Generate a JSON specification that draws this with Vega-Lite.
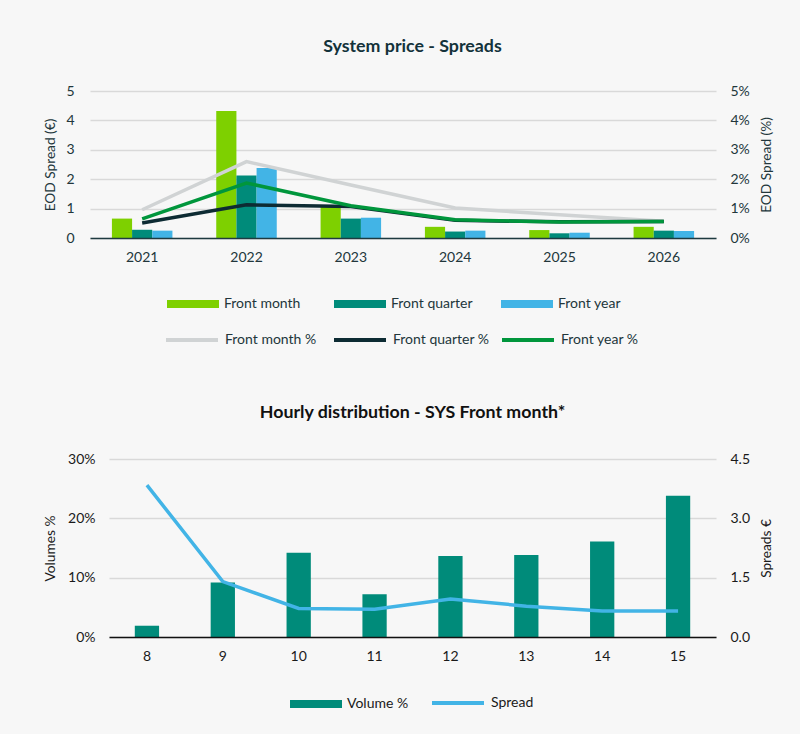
{
  "$schema": "https://vega.github.io/schema/vega-lite/v6.json",
  "background": "#f7f7f7",
  "padding": {"left": 43, "top": 38, "right": 26, "bottom": 23},
  "align": "none",
  "columns": 1,
  "datasets": {
    "spreadBars": [
      {"year": "2021", "series": "Front month", "value": 0.66},
      {"year": "2021", "series": "Front quarter", "value": 0.28},
      {"year": "2021", "series": "Front year", "value": 0.25},
      {"year": "2022", "series": "Front month", "value": 4.32},
      {"year": "2022", "series": "Front quarter", "value": 2.13},
      {"year": "2022", "series": "Front year", "value": 2.38},
      {"year": "2023", "series": "Front month", "value": 1.12},
      {"year": "2023", "series": "Front quarter", "value": 0.66},
      {"year": "2023", "series": "Front year", "value": 0.69},
      {"year": "2024", "series": "Front month", "value": 0.38},
      {"year": "2024", "series": "Front quarter", "value": 0.22},
      {"year": "2024", "series": "Front year", "value": 0.25},
      {"year": "2025", "series": "Front month", "value": 0.27},
      {"year": "2025", "series": "Front quarter", "value": 0.16},
      {"year": "2025", "series": "Front year", "value": 0.18},
      {"year": "2026", "series": "Front month", "value": 0.38},
      {"year": "2026", "series": "Front quarter", "value": 0.25},
      {"year": "2026", "series": "Front year", "value": 0.24}
    ],
    "spreadLines": [
      {"year": "2021", "series": "Front month %", "pct": 0.96},
      {"year": "2022", "series": "Front month %", "pct": 2.6},
      {"year": "2023", "series": "Front month %", "pct": 1.8},
      {"year": "2024", "series": "Front month %", "pct": 1.02},
      {"year": "2025", "series": "Front month %", "pct": 0.79},
      {"year": "2026", "series": "Front month %", "pct": 0.57},
      {"year": "2021", "series": "Front quarter %", "pct": 0.51},
      {"year": "2022", "series": "Front quarter %", "pct": 1.13},
      {"year": "2023", "series": "Front quarter %", "pct": 1.07},
      {"year": "2024", "series": "Front quarter %", "pct": 0.6},
      {"year": "2025", "series": "Front quarter %", "pct": 0.55},
      {"year": "2026", "series": "Front quarter %", "pct": 0.56},
      {"year": "2021", "series": "Front year %", "pct": 0.65},
      {"year": "2022", "series": "Front year %", "pct": 1.87},
      {"year": "2023", "series": "Front year %", "pct": 1.1},
      {"year": "2024", "series": "Front year %", "pct": 0.62},
      {"year": "2025", "series": "Front year %", "pct": 0.54},
      {"year": "2026", "series": "Front year %", "pct": 0.56}
    ],
    "hourly": [
      {"hour": 8, "volume": 1.9, "spread": 3.84},
      {"hour": 9, "volume": 9.2, "spread": 1.4},
      {"hour": 10, "volume": 14.2, "spread": 0.72},
      {"hour": 11, "volume": 7.2, "spread": 0.7},
      {"hour": 12, "volume": 13.65, "spread": 0.96},
      {"hour": 13, "volume": 13.8, "spread": 0.78},
      {"hour": 14, "volume": 16.1, "spread": 0.66},
      {"hour": 15, "volume": 23.8, "spread": 0.66}
    ]
  },
  "config": {
    "font": "Lato",
    "view": {"stroke": null},
    "axis": {
      "labelFont": "Lato", "titleFont": "Lato", "labelFontSize": 14, "titleFontSize": 13.7,
      "titleFontWeight": "normal", "gridColor": "#d9d9d9", "gridWidth": 1.5,
      "ticks": false, "domain": false, "labelColor": "#22363b", "titleColor": "#22363b"
    },
    "legend": {"labelFont": "Lato", "labelFontSize": 14, "labelColor": "#22363b", "padding": 0},
    "title": {"font": "Lato"}
  },
  "spacing": 56,
  "concat": [
    {
      "width": 607,
      "height": 147,
      "title": {"text": "System price - Spreads", "fontSize": 17.8, "fontWeight": "bold", "color": "#13323a", "offset": 28, "anchor": "middle"},
      "layer": [
        {
          "data": {"name": "spreadBars"},
          "mark": {"type": "bar"},
          "encoding": {
            "x": {"field": "year", "type": "ordinal", "scale": {"range": [-19, 607], "paddingInner": 0.42, "paddingOuter": 0.21},
              "axis": {"title": null, "labelPadding": 12, "domain": true, "domainColor": "#1e3a40", "domainWidth": 1.5, "grid": false, "labelAngle": 0, "zindex": 1}},
            "xOffset": {"field": "series", "type": "nominal", "scale": {"domain": ["Front month", "Front quarter", "Front year"], "paddingInner": 0, "paddingOuter": 0}},
            "y": {"field": "value", "type": "quantitative", "scale": {"domain": [0, 5]},
              "axis": {"title": "EOD Spread (€)", "values": [0, 1, 2, 3, 4, 5], "labelPadding": 35, "titlePadding": 8}},
            "fill": {"field": "series", "type": "nominal",
              "scale": {"domain": ["Front month", "Front quarter", "Front year"], "range": ["#7ed000", "#008b7a", "#42b4e6"]},
              "legend": {"title": null, "orient": "none", "direction": "horizontal", "legendX": 58, "legendY": 187,
                "symbolType": "M-1,-0.15H1V0.15H-1Z", "symbolSize": 2704, "symbolStrokeWidth": 0, "labelOffset": 5, "columnPadding": 28, "gridAlign": "all"}}
          }
        },
        {
          "data": {"name": "spreadLines"},
          "mark": {"type": "line", "strokeWidth": 3.5},
          "encoding": {
            "x": {"field": "year", "type": "ordinal"},
            "y": {"field": "pct", "type": "quantitative", "scale": {"domain": [0, 5]},
              "axis": {"title": "EOD Spread (%)", "titleAngle": 270, "titleBaseline": "top", "orient": "right", "values": [0, 1, 2, 3, 4, 5], "labelExpr": "datum.value + '%'", "grid": false, "labelPadding": 14, "titlePadding": 10}},
            "stroke": {"field": "series", "type": "nominal",
              "scale": {"domain": ["Front month %", "Front quarter %", "Front year %"], "range": ["#d0d3d4", "#0d2b33", "#00963c"]},
              "legend": {"title": null, "orient": "none", "direction": "horizontal", "legendX": 55, "legendY": 221,
                "symbolType": "stroke", "symbolSize": 2704, "symbolStrokeWidth": 4, "labelOffset": 5, "columnPadding": 4, "gridAlign": "all"}}
          }
        }
      ],
      "resolve": {"scale": {"y": "independent", "fill": "independent", "stroke": "independent"}}
    },
    {
      "width": 607,
      "height": 178,
      "title": {"text": "Hourly distribution - SYS Front month*", "fontSize": 17.8, "fontWeight": "bold", "color": "#111111", "offset": 30, "anchor": "middle"},
      "data": {"name": "hourly"},
      "layer": [
        {
          "mark": {"type": "bar"},
          "encoding": {
            "x": {"field": "hour", "type": "ordinal", "scale": {"paddingInner": 0.68, "paddingOuter": 0.34},
              "axis": {"title": null, "labelPadding": 12, "domain": true, "domainColor": "#111111", "domainWidth": 1.5, "grid": false, "labelAngle": 0, "zindex": 1, "labelColor": "#1a1a1a"}},
            "y": {"field": "volume", "type": "quantitative", "scale": {"domain": [0, 30]},
              "axis": {"title": "Volumes %", "values": [0, 10, 20, 30], "labelExpr": "datum.value + '%'", "labelPadding": 14, "titlePadding": 10, "labelColor": "#1a1a1a", "titleColor": "#1a1a1a"}},
            "fill": {"datum": "Volume %", "type": "nominal", "scale": {"range": ["#008b7a"]},
              "legend": {"title": null, "orient": "none", "legendX": 181, "legendY": 219,
                "symbolType": "M-1,-0.15H1V0.15H-1Z", "symbolSize": 2704, "symbolStrokeWidth": 0, "labelOffset": 5, "labelColor": "#1a1a1a"}}
          }
        },
        {
          "mark": {"type": "line", "strokeWidth": 3.5},
          "encoding": {
            "x": {"field": "hour", "type": "ordinal"},
            "y": {"field": "spread", "type": "quantitative", "scale": {"domain": [0, 4.5]},
              "axis": {"title": "Spreads €", "titleAngle": 270, "titleBaseline": "top", "orient": "right", "values": [0, 1.5, 3, 4.5], "format": ".1f", "grid": false, "labelPadding": 14, "titlePadding": 10, "labelColor": "#1a1a1a", "titleColor": "#1a1a1a"}},
            "stroke": {"datum": "Spread", "type": "nominal", "scale": {"range": ["#42b4e6"]},
              "legend": {"title": null, "orient": "none", "legendX": 321, "legendY": 216,
                "symbolType": "stroke", "symbolSize": 2704, "symbolStrokeWidth": 4, "labelOffset": 5, "labelColor": "#1a1a1a"}}
          }
        }
      ],
      "resolve": {"scale": {"y": "independent", "fill": "independent", "stroke": "independent"}}
    }
  ]
}
